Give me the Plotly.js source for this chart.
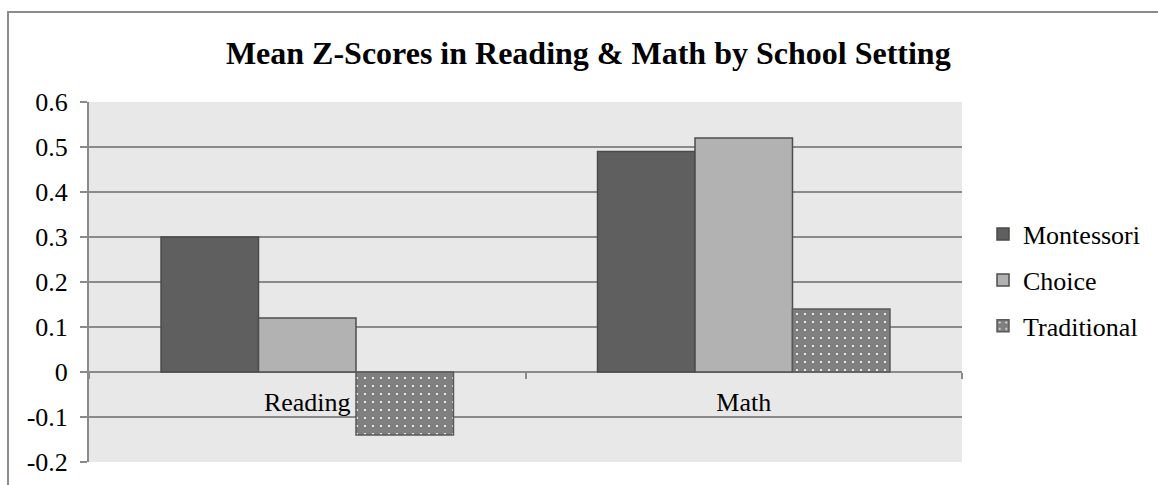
<!DOCTYPE html>
<html>
<head>
<meta charset="utf-8">
<script src="https://cdn.plot.ly/plotly-3.0.1.min.js"></script>
<style>
html,body{margin:0;padding:0;background:#fff;}
#wrap{position:relative;width:1158px;height:485px;overflow:hidden;}
#chart{width:1158px;height:485px;}
#frame{position:absolute;left:7px;top:11px;width:1200px;height:520px;border:2px solid #8c8c8c;pointer-events:none;}
</style>
</head>
<body>
<div id="wrap"><div id="chart"></div><div id="frame"></div></div>
<script>
const categories = ["Reading", "Math"];
const montessori = [0.30, 0.49];
const choice = [0.12, 0.52];
const traditional = [-0.14, 0.14];
const seriesNames = ["Montessori", "Choice", "Traditional"];
const yTickVals = [-0.2, -0.1, 0, 0.1, 0.2, 0.3, 0.4, 0.5, 0.6];
const yTickText = ["-0.2", "-0.1", "0", "0.1", "0.2", "0.3", "0.4", "0.5", "0.6"];

const font = "Liberation Serif";

const traces = [
  {type:"bar", name:seriesNames[0], x:categories, y:montessori, legendgroup:"a",
   marker:{color:"#5f5f5f", line:{color:"#4a4a4a", width:1.5}}},
  {type:"bar", name:seriesNames[1], x:categories, y:choice, legendgroup:"b",
   marker:{color:"#b2b2b2", line:{color:"#4d4d4d", width:1.5}}},
  {type:"bar", name:seriesNames[2], x:categories, y:traditional, legendgroup:"c",
   marker:{color:"#7f7f7f", line:{color:"#5a5a5a", width:1.5},
     pattern:{shape:".", fgcolor:"#ffffff", bgcolor:"#7f7f7f", size:8, solidity:0.06, fillmode:"replace"}}}
];

const layout = {
  width:1158, height:485,
  margin:{l:89, r:196, t:102, b:23},
  paper_bgcolor:"#ffffff",
  plot_bgcolor:"#e8e8e8",
  font:{family:font, size:26, color:"#000"},
  title:{text:"<b>Mean Z-Scores in Reading & Math by School Setting</b>",
    font:{family:font, size:32, color:"#000"},
    xref:"container", x:0.508, xanchor:"center",
    yref:"container", y:1-53/485, yanchor:"middle"},
  barmode:"group", bargap:0.33, bargroupgap:0,
  showlegend:true,
  legend:{x:(983-89)/873, xanchor:"left", y:0.505, yanchor:"middle",
    font:{family:font, size:26, color:"#000"}, tracegroupgap:9,
    itemwidth:30, bgcolor:"rgba(0,0,0,0)", borderwidth:0},
  xaxis:{type:"category", anchor:"free", position:0.25,
    showgrid:false, showline:false, zeroline:false,
    ticks:"outside", tickson:"boundaries", ticklen:6, tickwidth:2, tickcolor:"#8c8c8c",
    ticklabelstandoff:12,
    tickfont:{family:font, size:26, color:"#000"}, range:[-0.5, 1.5]},
  yaxis:{range:[-0.2, 0.6], domain:[0,1], tickvals:yTickVals, ticktext:yTickText,
    showgrid:true, gridcolor:"#8a8a8a", gridwidth:2,
    zeroline:true, zerolinecolor:"#8a8a8a", zerolinewidth:2,
    showline:true, linecolor:"#8a8a8a", linewidth:2,
    ticks:"outside", ticklen:7, tickwidth:2, tickcolor:"#8a8a8a",
    ticklabelstandoff:7,
    tickfont:{family:font, size:26, color:"#000"}}
};

Plotly.newPlot("chart", traces, layout, {displayModeBar:false, staticPlot:true});
</script>
</body>
</html>
